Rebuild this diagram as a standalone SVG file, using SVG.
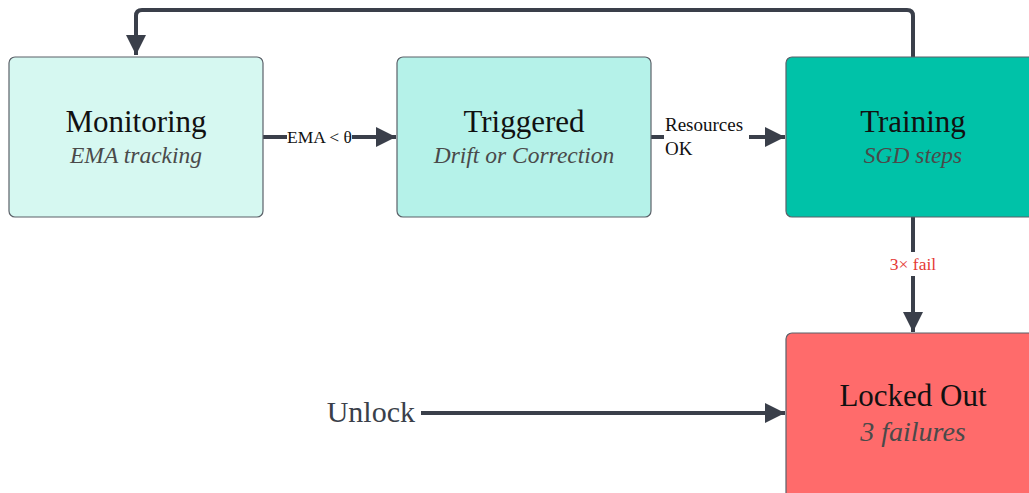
<svg xmlns="http://www.w3.org/2000/svg" width="1029" height="493" viewBox="0 0 1029 493">
  <style>
    .node { stroke: #5b6169; stroke-width: 1.2; }
    .title { font-family: "Liberation Serif", serif; font-size: 31px; fill: #111; text-anchor: middle; }
    .sub { font-family: "Liberation Serif", serif; font-style: italic; font-size: 23.5px; fill: #4a4a4a; text-anchor: middle; }
    .edge { fill: none; stroke: #3a3f4a; stroke-width: 4; }
    .elabel { font-family: "Liberation Serif", serif; font-size: 17.5px; fill: #111; }
  </style>
  <defs>
    <marker id="arrow" viewBox="0 0 10 10" refX="10" refY="5" markerWidth="6" markerHeight="5" markerUnits="strokeWidth" orient="auto">
      <path d="M0,0 L10,5 L0,10 Z" fill="#3a3f4a"/>
    </marker>
  </defs>

  <g id="connectors">
    <!-- loop back from Training to Monitoring -->
    <path class="edge" d="M913,57 V16 Q913,10 907,10 H142 Q136,10 136,16 V55" stroke-width="3.5" marker-end="url(#arrow)"/>
    <!-- Monitoring to Triggered -->
    <path class="edge" d="M263,137 H287"/>
    <path class="edge" d="M352,137 H396" marker-end="url(#arrow)"/>
    <text class="elabel" x="287" y="142.5">EMA &lt; θ</text>
    <!-- Triggered to Training -->
    <path class="edge" d="M651,137 H664"/>
    <path class="edge" d="M749,137 H785" marker-end="url(#arrow)"/>
    <text class="elabel" x="665" y="131" style="font-size:19px">Resources</text>
    <text class="elabel" x="665" y="155" style="font-size:19px">OK</text>
    <!-- Training to Locked Out -->
    <path class="edge" d="M913,217 V252"/>
    <path class="edge" d="M913,276 V332" marker-end="url(#arrow)"/>
    <text class="elabel" x="913" y="270" text-anchor="middle" style="fill:#e53935">3× fail</text>
    <!-- Unlock to Locked Out -->
    <path class="edge" d="M421,413 H785" stroke-width="3.2" marker-end="url(#arrow)"/>
    <text x="415" y="422" text-anchor="end" font-family="Liberation Serif, serif" font-size="30" fill="#3a3f4a">Unlock</text>
  </g>

  <g id="monitoring">
    <rect class="node" x="9" y="57" width="254" height="160" rx="6" fill="#d6f8f1"/>
    <text class="title" x="136" y="132">Monitoring</text>
    <text class="sub" x="136" y="163">EMA tracking</text>
  </g>

  <g id="triggered">
    <rect class="node" x="397" y="57" width="254" height="160" rx="6" fill="#b5f2e9"/>
    <text class="title" x="524" y="132">Triggered</text>
    <text class="sub" x="524" y="163">Drift or Correction</text>
  </g>

  <g id="training">
    <rect class="node" x="786" y="57" width="254" height="160" rx="6" fill="#00c2a8"/>
    <text class="title" x="913" y="132">Training</text>
    <text class="sub" x="913" y="163">SGD steps</text>
  </g>

  <g id="locked-out">
    <rect class="node" x="786" y="333" width="254" height="170" rx="6" fill="#ff6b6b"/>
    <text class="title" x="913" y="406">Locked Out</text>
    <text class="sub" x="913" y="441" style="font-size:28px">3 failures</text>
  </g>
</svg>
